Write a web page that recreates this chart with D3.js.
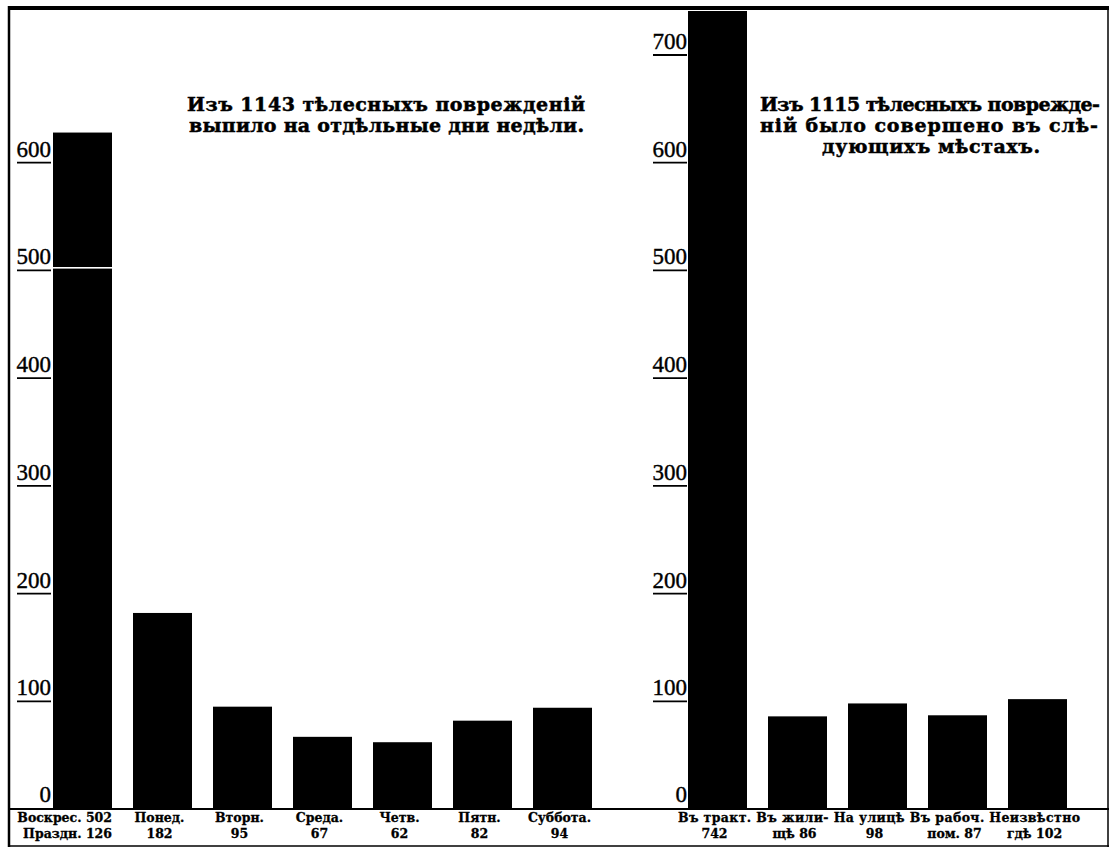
<!DOCTYPE html>
<html>
<head>
<meta charset="utf-8">
<script src="https://cdn.jsdelivr.net/npm/d3@7"></script>
<style>
  html, body { margin: 0; padding: 0; background: #fff; }
  svg { display: block; }
</style>
</head>
<body>
<svg id="chart" width="1110" height="848"></svg>
<script>
// ---------- DATA ----------
const days = ["Воскрес.", "Понед.", "Вторн.", "Среда.", "Четв.", "Пятн.", "Суббота."];
const dayCounts = [502, 182, 95, 67, 62, 82, 94];
const holidayCounts = [126, 0, 0, 0, 0, 0, 0];
const dayLabel1 = ["Воскрес. 502", "Понед.", "Вторн.", "Среда.", "Четв.", "Пятн.", "Суббота."];
const dayLabel2 = ["Праздн. 126", "182", "95", "67", "62", "82", "94"];

const places = ["Въ тракт.", "Въ жилищѣ", "На улицѣ", "Въ рабоч. пом.", "Неизвѣстно гдѣ"];
const placeCounts = [742, 86, 98, 87, 102];
const placeLabel1 = ["Въ тракт.", "Въ жили-", "На улицѣ", "Въ рабоч.", "Неизвѣстно"];
const placeLabel2 = ["742", "щѣ 86", "98", "пом. 87", "гдѣ 102"];

const leftTicks = [0, 100, 200, 300, 400, 500, 600];
const rightTicks = [0, 100, 200, 300, 400, 500, 600, 700];

const leftTitle = ["Изъ 1143  тѣлесныхъ поврежденій", "выпило на  отдѣльные дни  недѣли."];
const rightTitle = ["Изъ 1115 тѣлесныхъ поврежде-", "ній  было  совершено  въ  слѣ-", "дующихъ мѣстахъ."];

// ---------- LAYOUT ----------
const svg = d3.select("#chart");
const serifBold = "'DejaVu Serif', 'Liberation Serif', serif";
const serifReg = "'Liberation Serif', 'DejaVu Serif', serif";

const y = d3.scaleLinear().domain([0, 700]).range([809, 55]);

const xLeft = d3.scaleBand().domain(days).range([53, 592]).paddingInner(0.2625).paddingOuter(0);
const xRight = d3.scaleBand().domain(places).range([688, 1067]).paddingInner(0.2625).paddingOuter(0);

// frame
const frame = svg.append("g").attr("stroke", "#000").attr("fill", "none");
frame.append("line").attr("x1", 8).attr("x2", 1109).attr("y1", 8).attr("y2", 8).attr("stroke-width", 4);
frame.append("line").attr("x1", 9).attr("x2", 9).attr("y1", 6).attr("y2", 847).attr("stroke-width", 2.5);
frame.append("line").attr("x1", 1108).attr("x2", 1108).attr("y1", 6).attr("y2", 847).attr("stroke-width", 1.5);
frame.append("line").attr("x1", 8).attr("x2", 1109).attr("y1", 846).attr("y2", 846).attr("stroke-width", 1.5);
frame.append("line").attr("x1", 8).attr("x2", 1109).attr("y1", 809).attr("y2", 809).attr("stroke-width", 2);

// ---------- LEFT BARS (stacked) ----------
const stackData = days.map((d, i) => ({ day: d, weekday: dayCounts[i], holiday: holidayCounts[i] }));
const stacked = d3.stack().keys(["weekday", "holiday"])(stackData);
const gl = svg.append("g");
stacked.forEach(layer => {
  gl.selectAll(null).data(layer.filter(d => d[1] > d[0])).enter().append("rect")
    .attr("x", d => xLeft(d.data.day))
    .attr("width", xLeft.bandwidth())
    .attr("y", d => y(d[1]))
    .attr("height", d => y(d[0]) - y(d[1]))
    .attr("fill", "#000");
});
// thin white separator between Sunday and holiday parts
gl.selectAll(null).data(stacked[1].filter(d => d[1] > d[0])).enter().append("line")
  .attr("x1", d => xLeft(d.data.day) - 2)
  .attr("x2", d => xLeft(d.data.day) + xLeft.bandwidth())
  .attr("y1", d => y(d[0]) - 0.5).attr("y2", d => y(d[0]) - 0.5)
  .attr("stroke", "#fff").attr("stroke-width", 1.5);

// ---------- RIGHT BARS ----------
svg.append("g").selectAll("rect").data(places).enter().append("rect")
  .attr("x", d => xRight(d))
  .attr("width", xRight.bandwidth())
  .attr("y", (d, i) => Math.max(y(placeCounts[i]), 11))
  .attr("height", (d, i) => y(0) - Math.max(y(placeCounts[i]), 11))
  .attr("fill", "#000");

// ---------- AXES ----------
function drawTicks(ticks, xRightEdge, ulWidth) {
  const g = svg.append("g");
  ticks.forEach(t => {
    g.append("text")
      .attr("x", xRightEdge)
      .attr("y", t === 0 ? y(0) - 7 : y(t) - 6)
      .attr("text-anchor", "end")
      .attr("font-family", serifReg)
      .attr("font-size", 23)
      .attr("fill", "#000")
      .attr("stroke", "#000").attr("stroke-width", 0.4)
      .text(t);
    if (t !== 0) {
      g.append("line")
        .attr("x1", xRightEdge - ulWidth).attr("x2", xRightEdge)
        .attr("y1", y(t)).attr("y2", y(t))
        .attr("stroke", "#000").attr("stroke-width", 1.8);
    }
  });
}
drawTicks(leftTicks, 51, 34);
drawTicks(rightTicks, 687, 34);

// ---------- CATEGORY LABELS ----------
function labelGroup() {
  return svg.append("g").attr("font-family", serifBold).attr("font-weight", "bold")
    .attr("font-size", 12.5).attr("fill", "#000").attr("stroke", "#000").attr("stroke-width", 0.3);
}
// left panel: labels under each bar
const gLab = labelGroup();
days.forEach((c, i) => {
  const x = i === 0 ? xLeft(c) + xLeft.bandwidth() : xLeft(c) + xLeft.bandwidth() / 2 - 3;
  const anchor = i === 0 ? "end" : "middle";
  gLab.append("text").attr("x", x).attr("y", 822).attr("text-anchor", anchor).text(dayLabel1[i]);
  gLab.append("text").attr("x", x).attr("y", 838).attr("text-anchor", anchor).text(dayLabel2[i]);
});
// right panel: first line set as one continuous line, second line under each bar
const gRab = labelGroup();
gRab.append("text").attr("x", xRight(places[0]) - 10).attr("y", 822)
  .attr("textLength", 402).attr("lengthAdjust", "spacing")
  .text(placeLabel1.join(" "));
places.forEach((c, i) => {
  gRab.append("text").attr("x", xRight(c) + xRight.bandwidth() / 2 - 3).attr("y", 838)
    .attr("text-anchor", "middle").text(placeLabel2[i]);
});

// ---------- TITLES ----------
const tg = svg.append("g").attr("font-family", serifBold).attr("font-weight", "bold")
  .attr("font-size", 19).attr("fill", "#000").attr("stroke", "#000").attr("stroke-width", 0.5);
tg.append("text").attr("x", 187).attr("y", 111).attr("textLength", 398).attr("lengthAdjust", "spacing").text(leftTitle[0]);
tg.append("text").attr("x", 189).attr("y", 132).attr("textLength", 395).attr("lengthAdjust", "spacing").text(leftTitle[1]);
tg.append("text").attr("x", 760).attr("y", 111).attr("textLength", 340).attr("lengthAdjust", "spacing").text(rightTitle[0]);
tg.append("text").attr("x", 760).attr("y", 132).attr("textLength", 338).attr("lengthAdjust", "spacing").text(rightTitle[1]);
tg.append("text").attr("x", 822).attr("y", 153).attr("textLength", 218).attr("lengthAdjust", "spacing").text(rightTitle[2]);
</script>
</body>
</html>
